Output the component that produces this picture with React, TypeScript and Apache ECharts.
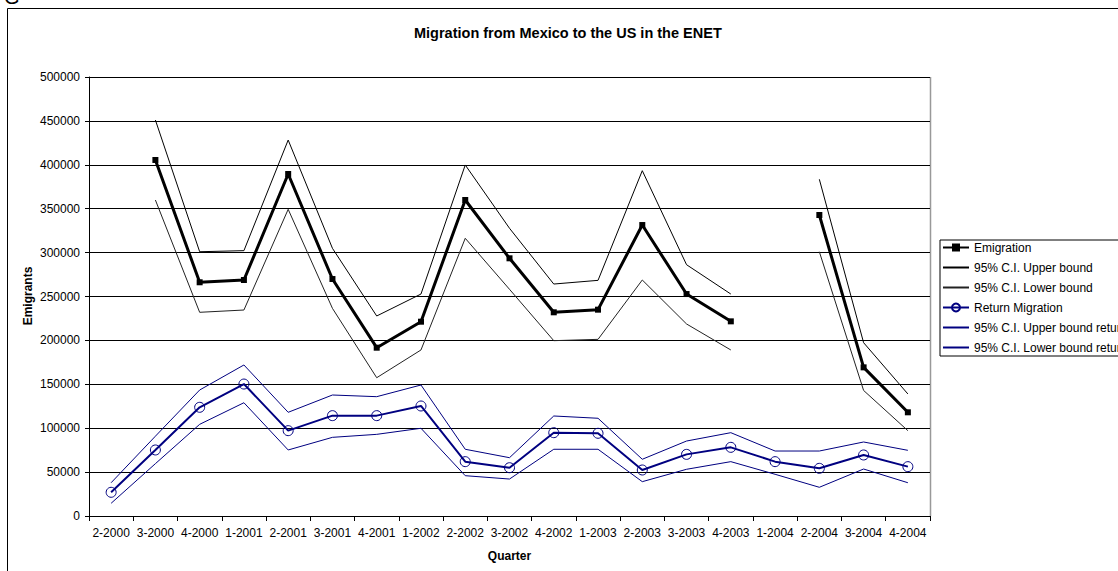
import React, { useEffect, useRef } from "react";
import * as echarts from "echarts";

const quarters = [
  "2-2000", "3-2000", "4-2000", "1-2001", "2-2001", "3-2001", "4-2001", "1-2002", "2-2002", "3-2002",
  "4-2002", "1-2003", "2-2003", "3-2003", "4-2003", "1-2004", "2-2004", "3-2004", "4-2004",
];

const emigration = [
  null, 405500, 266200, 268800, 389500, 269900, 191700, 221300, 359900, 293500,
  232000, 235000, 331400, 252800, 221700, null, 342800, 169300, 118100,
];
const emigUpper = [
  null, 451000, 301000, 302200, 428200, 304900, 227800, 252800, 399800, 327700,
  264200, 268400, 393300, 286200, 252800, null, 383500, 197400, 139000,
];
const emigLower = [
  null, 359900, 232000, 234600, 349300, 236500, 157500, 189100, 316300, 258200,
  199700, 201200, 268800, 218700, 189100, null, 301000, 143000, 97200,
];
const returnMig = [
  27000, 75200, 123800, 150300, 97200, 114300, 114300, 125300, 61900, 55000,
  94900, 94200, 52400, 70200, 78200, 61900, 54300, 69500, 56200,
];
const returnUpper = [
  37900, 90900, 143500, 172000, 118100, 137800, 135900, 149200, 76000, 66400,
  113900, 111300, 64600, 85400, 94900, 74000, 74000, 84300, 74800,
];
const returnLower = [
  14500, 59600, 104400, 129000, 75200, 89600, 93000, 99900, 45900, 42100,
  76000, 76000, 39100, 53200, 61900, 47500, 32700, 53500, 37900,
];

const yTicks = { min: 0, max: 500000, interval: 50000 };

const FONT = "Liberation Sans, Arial, sans-serif";
const NAVY = "#000080";

export default function App() {
  const ref = useRef<HTMLDivElement>(null);
  useEffect(() => {
    if (!ref.current) return;
    const chart = echarts.init(ref.current, null, { renderer: "svg" });
    const thin = (name: string, data: any[], color: string) => ({
      name,
      type: "line",
      data,
      symbol: "none",
      showSymbol: false,
      connectNulls: false,
      lineStyle: { color, width: 1 },
      itemStyle: { color },
      z: 2,
    });
    const lineOnly = (name: string) => ({
      name,
      itemStyle: { opacity: 0, color: "rgba(0,0,0,0)", borderWidth: 0 },
    });
    chart.setOption({
      animation: false,
      backgroundColor: "#fff",
      textStyle: { fontFamily: FONT },
      title: {
        text: "Migration from Mexico to the US in the ENET",
        left: 414,
        top: 25,
        padding: 0,
        textStyle: { fontSize: 14.5, fontWeight: "bold", color: "#000", fontFamily: FONT },
      },
      grid: { left: 89, top: 77, right: 188, bottom: 55, containLabel: false },
      legend: {
        orient: "vertical",
        left: 940,
        top: 240,
        padding: [1, 3, 2, 2],
        itemGap: 7,
        itemWidth: 26,
        itemHeight: 10,
        borderColor: "#000",
        borderWidth: 1,
        textStyle: { fontSize: 12, color: "#000", fontFamily: FONT, lineHeight: 13 },
        data: [
          "Emigration",
          lineOnly("95% C.I. Upper bound"),
          lineOnly("95% C.I. Lower bound"),
          "Return Migration",
          lineOnly("95% C.I. Upper bound return"),
          lineOnly("95% C.I. Lower bound return"),
        ],
      },
      xAxis: {
        type: "category",
        data: quarters,
        boundaryGap: true,
        name: "Quarter",
        nameLocation: "middle",
        nameGap: 34,
        nameTextStyle: { fontSize: 12, fontWeight: "bold", color: "#000" },
        axisLine: { lineStyle: { color: "#000", width: 1 } },
        axisTick: { show: true, interval: 0, length: 5, lineStyle: { color: "#000" } },
        axisLabel: { interval: 0, fontSize: 12, color: "#000", margin: 11 },
        splitLine: { show: false },
      },
      yAxis: {
        type: "value",
        min: yTicks.min,
        max: yTicks.max,
        interval: yTicks.interval,
        axisLine: { show: true, lineStyle: { color: "#000", width: 1 } },
        axisTick: { show: true, length: 4, lineStyle: { color: "#000" } },
        axisLabel: { fontSize: 12, color: "#000", margin: 9, formatter: (v: number) => String(v) },
        splitLine: { show: true, lineStyle: { color: "#000", width: 1 } },
      },
      graphic: [
        {
          type: "rect",
          shape: { x: 7.5, y: 8.5, width: 1200, height: 700 },
          style: { fill: "none", stroke: "#000", lineWidth: 1 },
          silent: true,
          z: -1,
        },
        {
          type: "line",
          shape: { x1: 930.5, y1: 77, x2: 930.5, y2: 516 },
          style: { stroke: "#999", lineWidth: 1.5 },
          silent: true,
        },
        {
          type: "text",
          x: 28,
          y: 296,
          rotation: Math.PI / 2,
          style: {
            text: "Emigrants",
            fontSize: 12,
            fontWeight: "bold",
            fill: "#000",
            fontFamily: FONT,
            align: "center",
            verticalAlign: "middle",
          },
          silent: true,
        },
        {
          type: "text",
          x: 4,
          y: -13,
          style: { text: "G", fontSize: 20, fill: "#000", fontFamily: FONT },
          silent: true,
        },
      ],
      series: [
        {
          name: "Emigration",
          type: "line",
          data: emigration,
          connectNulls: false,
          symbol: "rect",
          symbolSize: 6,
          lineStyle: { color: "#000", width: 3 },
          itemStyle: { color: "#000" },
          z: 5,
        },
        thin("95% C.I. Upper bound", emigUpper, "#000"),
        thin("95% C.I. Lower bound", emigLower, "#222"),
        {
          name: "Return Migration",
          type: "line",
          data: returnMig,
          symbol: "circle",
          symbolSize: 10,
          lineStyle: { color: NAVY, width: 2 },
          itemStyle: { color: "rgba(0,0,0,0)", borderColor: NAVY, borderWidth: 1 },
          z: 5,
        },
        thin("95% C.I. Upper bound return", returnUpper, NAVY),
        thin("95% C.I. Lower bound return", returnLower, NAVY),
      ],
    });
    return () => chart.dispose();
  }, []);
  return (
    <div
      ref={ref}
      style={{ position: "absolute", left: 0, top: 0, width: 1118, height: 571, overflow: "hidden" }}
    />
  );
}
